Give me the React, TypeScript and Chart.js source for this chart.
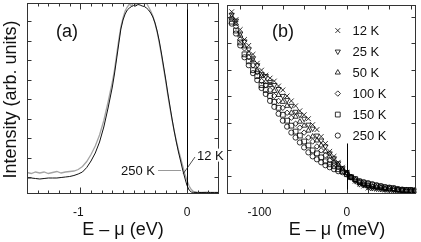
import React, { useEffect, useRef } from 'react';
import { Chart, registerables } from 'chart.js';
import { drawPoint } from 'chart.js/helpers';

Chart.register(...registerables);

const FONT = '"Liberation Sans", Arial, Helvetica, sans-serif';

// ---------------- Panel (a): photoemission spectra ----------------
const A_ENERGY = [
  -1.50, -1.46, -1.42, -1.38, -1.34, -1.30, -1.26, -1.22, -1.18, -1.14, -1.10, -1.06, -1.02, -0.98, -0.94, -0.90, -0.86, -0.82, -0.78, -0.74, -0.70,
  -0.68, -0.66, -0.64, -0.62, -0.60, -0.58, -0.56, -0.54, -0.52, -0.50, -0.48, -0.46, -0.44, -0.42, -0.40, -0.38, -0.36, -0.34, -0.32, -0.30,
  -0.28, -0.26, -0.24, -0.22, -0.20, -0.18, -0.16, -0.14, -0.12, -0.10, -0.08, -0.06, -0.04, -0.02, 0.00, 0.02, 0.04, 0.06,
  0.10, 0.14, 0.18, 0.22, 0.26, 0.30,
];
const A_12K = [
  1.50, 1.50, 1.45, 1.40, 1.45, 1.50, 1.50, 1.50, 1.55, 1.60, 1.65, 1.75, 1.90, 2.10, 2.55, 3.20, 4.00, 5.10, 6.60, 8.50, 10.60,
  11.90, 13.40, 14.90, 16.40, 17.30, 17.90, 18.30, 18.50, 18.65, 18.75, 18.70, 18.85, 18.80, 18.70, 18.65, 18.50, 18.30, 18.00, 17.60, 17.00,
  16.20, 15.20, 14.00, 12.70, 11.40, 10.00, 8.70, 7.40, 6.20, 5.10, 4.10, 3.20, 2.30, 1.50, 0.75, 0.30, 0.10, 0.06,
  0.05, 0.05, 0.04, 0.05, 0.04, 0.05,
];
const A_250K = [
  2.05, 1.95, 2.10, 2.00, 2.10, 1.95, 2.05, 2.15, 2.00, 2.10, 2.15, 2.20, 2.35, 2.65, 3.15, 3.85, 4.70, 5.80, 7.25, 9.10, 11.10,
  12.30, 13.80, 15.30, 16.60, 17.50, 18.20, 18.60, 18.90, 18.70, 19.10, 18.80, 19.20, 19.00, 19.30, 18.90, 19.00, 18.60, 18.20, 17.70, 17.00,
  16.10, 15.00, 13.80, 12.50, 11.20, 9.80, 8.50, 7.30, 6.20, 5.20, 4.30, 3.50, 2.70, 1.90, 1.25, 0.70, 0.35, 0.15,
  0.07, 0.06, 0.08, 0.05, 0.07, 0.06,
];
const A_X_MIN = -1.5;
const A_X_MAX = 0.3;
const A_Y_MIN = -0.1;
const A_Y_MAX = 19;
const A_X_MINOR_TICKS = [-1.4, -1.3, -1.2, -1.1, -0.9, -0.8, -0.7, -0.6, -0.5, -0.4, -0.3, -0.2, -0.1, 0.1, 0.2];
const A_X_MAJOR_TICKS = [-1, 0];
const A_X_LABEL_VALUES = [-1, 0];
const A_X_LABEL_TEXT = ['-1', '0'];
const A_Y_TICKS = [1.6, 3.55, 5.5, 7.45, 9.4, 11.35, 13.3, 15.25, 17.2];

// ---------------- Panel (b): temperature dependence near E_F ----------------
const B_ENERGY = [
  -135, -130, -125, -120, -115, -110, -105, -100, -95, -90, -85, -80, -75, -70, -65, -60, -55, -50, -45, -40, -35, -30,
  -25, -20, -15, -10, -5, 0, 5, 10, 15, 20, 25, 30, 35, 40, 45, 50, 55, 60, 65, 70, 75, 80,
];
const B_12K = [
  18.3, 17.5, 16.5, 15.5, 14.9, 14.0, 13.1, 12.4, 11.9, 11.6, 11.3, 10.8, 10.4, 9.8, 9.3, 8.8, 8.3, 7.9, 7.5, 6.9, 6.4, 5.7,
  5.0, 4.2, 3.7, 3.1, 2.6, 2.1, 1.6, 1.2, 0.9, 0.7, 0.5, 0.45, 0.4, 0.35, 0.3, 0.3, 0.25, 0.25, 0.2, 0.2, 0.2, 0.2,
];
const B_25K = [
  18.0, 17.4, 16.1, 15.3, 14.5, 13.6, 12.9, 12.0, 11.8, 11.2, 10.9, 10.5, 9.8, 9.4, 8.8, 8.2, 7.9, 7.5, 6.9, 6.5, 5.8, 5.3,
  4.7, 4.0, 3.5, 3.0, 2.5, 2.1, 1.6, 1.2, 0.9, 0.8, 0.6, 0.5, 0.45, 0.4, 0.35, 0.3, 0.3, 0.25, 0.25, 0.2, 0.2, 0.2,
];
const B_50K = [
  17.8, 17.1, 15.9, 14.8, 14.1, 13.4, 12.4, 11.8, 11.2, 10.9, 10.3, 9.9, 9.2, 8.8, 8.1, 7.7, 7.2, 6.8, 6.3, 5.7, 5.3, 4.8,
  4.2, 3.7, 3.2, 2.8, 2.4, 2.0, 1.6, 1.3, 1.0, 0.85, 0.7, 0.6, 0.55, 0.5, 0.4, 0.4, 0.35, 0.3, 0.25, 0.25, 0.2, 0.2,
];
const B_100K = [
  17.6, 16.8, 15.5, 14.6, 13.7, 12.9, 12.2, 11.3, 10.9, 10.4, 9.8, 9.3, 8.6, 8.1, 7.6, 7.0, 6.6, 6.1, 5.6, 5.2, 4.7, 4.3,
  3.8, 3.3, 3.0, 2.6, 2.3, 2.0, 1.6, 1.3, 1.1, 0.9, 0.8, 0.7, 0.6, 0.55, 0.45, 0.45, 0.4, 0.35, 0.3, 0.25, 0.25, 0.25,
];
const B_150K = [
  17.3, 16.4, 15.2, 14.0, 13.3, 12.4, 11.8, 10.9, 10.4, 9.8, 9.2, 8.6, 7.9, 7.3, 6.8, 6.2, 5.8, 5.2, 4.8, 4.3, 4.0, 3.6,
  3.2, 2.9, 2.7, 2.4, 2.2, 1.9, 1.6, 1.4, 1.15, 1.0, 0.9, 0.8, 0.7, 0.65, 0.55, 0.5, 0.45, 0.35, 0.3, 0.3, 0.3, 0.25,
];
const B_250K = [
  17.1, 16.1, 14.9, 13.7, 12.9, 12.1, 11.4, 10.6, 10.0, 9.3, 8.7, 8.0, 7.3, 6.7, 6.1, 5.6, 5.1, 4.6, 4.1, 3.7, 3.4, 3.1,
  2.8, 2.6, 2.4, 2.2, 2.1, 1.9, 1.6, 1.4, 1.2, 1.1, 1.0, 0.9, 0.8, 0.7, 0.6, 0.55, 0.5, 0.4, 0.35, 0.3, 0.3, 0.25,
];
const B_SERIES_LABELS = ['12 K', '25 K', '50 K', '100 K', '150 K', '250 K'];
const B_X_MIN = -140.5;
const B_X_MAX = 81.5;
const B_Y_MIN = -0.1;
const B_Y_MAX = 19;
const B_X_TICKS = [-125, -100, -75, -50, -25, 0, 25, 50, 75];
const B_X_LABEL_VALUES = [-100, 0];
const B_X_LABEL_TEXT = ['-100', '0'];
const B_Y_TICKS = [1.7, 4.38, 7.07, 9.75, 12.43, 15.12, 17.8];
const B_FERMI_LINE_TOP = 5.0;

// annotation anchors (data coordinates)
const A_PANEL_TAG = { x: -1.125, y: 15.65, text: '(a)' };
const A_LABEL_250 = { x: -0.30, y: 1.84, text: '250 K' };
const A_POINTER_250 = [[-0.272, 2.3], [-0.056, 2.3]];
const A_LABEL_12 = { x: 0.094, y: 3.34, text: '12 K' };
const A_POINTER_12 = [[0.075, 3.6], [-0.0375, 1.9]];
const B_PANEL_TAG = { x: -74.9, y: 15.7, text: '(b)' };
const B_LEGEND_MARKER_X = -10.5;
const B_LEGEND_TEXT_X = 6.7;
const B_LEGEND_ROWS = [16.4, 14.28, 12.16, 10.04, 7.92, 5.8];

// styles
const MARKER_STYLES = [
  { pointStyle: 'crossRot', rotation: 0, radius: 3.4 },
  { pointStyle: 'triangle', rotation: 180, radius: 3.0 },
  { pointStyle: 'triangle', rotation: 0, radius: 3.0 },
  { pointStyle: 'rectRot', rotation: 0, radius: 2.7 },
  { pointStyle: 'rect', rotation: 0, radius: 3.4 },
  { pointStyle: 'circle', rotation: 0, radius: 2.6 },
];
const FRAME_COLOR = '#333';
const TEXT_COLOR = '#111';

function pts(xs: number[], ys: number[]) {
  return xs.map((x, i) => ({ x, y: ys[i] }));
}

function drawFrame(ctx: CanvasRenderingContext2D, area: any) {
  const l = Math.round(area.left) + 0.5;
  const r = Math.round(area.right) - 0.5;
  const t = Math.round(area.top) + 0.5;
  const b = Math.round(area.bottom) - 0.5;
  ctx.strokeStyle = FRAME_COLOR;
  ctx.lineWidth = 1;
  ctx.strokeRect(l, t, r - l, b - t);
  return { l, r, t, b };
}

function xTicks(ctx: CanvasRenderingContext2D, chart: any, values: number[], len: number, f: any) {
  ctx.beginPath();
  for (const v of values) {
    const x = Math.round(chart.scales.x.getPixelForValue(v)) + 0.5;
    ctx.moveTo(x, f.b);
    ctx.lineTo(x, f.b - len);
    ctx.moveTo(x, f.t);
    ctx.lineTo(x, f.t + len);
  }
  ctx.stroke();
}

function yTicks(ctx: CanvasRenderingContext2D, chart: any, values: number[], len: number, f: any) {
  ctx.beginPath();
  for (const v of values) {
    const y = Math.round(chart.scales.y.getPixelForValue(v)) + 0.5;
    ctx.moveTo(f.l, y);
    ctx.lineTo(f.l + len, y);
    ctx.moveTo(f.r, y);
    ctx.lineTo(f.r - len, y);
  }
  ctx.stroke();
}

function tickLabels(ctx: CanvasRenderingContext2D, chart: any, values: number[], texts: string[], baseline: number) {
  ctx.font = `12px ${FONT}`;
  ctx.fillStyle = TEXT_COLOR;
  ctx.textAlign = 'center';
  ctx.textBaseline = 'alphabetic';
  values.forEach((v, i) => {
    const t = texts[i];
    const shift = t.startsWith('-') ? ctx.measureText('-').width / 2 : 0;
    ctx.fillText(t, chart.scales.x.getPixelForValue(v) - shift, baseline);
  });
}

function fermiLine(ctx: CanvasRenderingContext2D, chart: any, yTop: number) {
  const x = Math.round(chart.scales.x.getPixelForValue(0)) + 0.5;
  ctx.strokeStyle = '#000';
  ctx.lineWidth = 1;
  ctx.beginPath();
  ctx.moveTo(x, chart.scales.y.getPixelForValue(yTop));
  ctx.lineTo(x, chart.chartArea.bottom);
  ctx.stroke();
}

const panelAPlugin = {
  id: 'panelA',
  afterDatasetsDraw(chart: any) {
    const ctx: CanvasRenderingContext2D = chart.ctx;
    const area = chart.chartArea;
    const sx = (v: number) => chart.scales.x.getPixelForValue(v);
    const sy = (v: number) => chart.scales.y.getPixelForValue(v);
    ctx.save();
    fermiLine(ctx, chart, A_Y_MAX);
    const f = drawFrame(ctx, area);
    xTicks(ctx, chart, A_X_MINOR_TICKS, 3, f);
    xTicks(ctx, chart, A_X_MAJOR_TICKS, 6, f);
    yTicks(ctx, chart, A_Y_TICKS, 4, f);
    tickLabels(ctx, chart, A_X_LABEL_VALUES, A_X_LABEL_TEXT, 216);

    // axis titles
    ctx.fillStyle = TEXT_COLOR;
    ctx.font = `18px ${FONT}`;
    ctx.textAlign = 'center';
    ctx.textBaseline = 'alphabetic';
    ctx.fillText('E \u2013 \u03bc (eV)', (area.left + area.right) / 2, 235);
    ctx.save();
    ctx.translate(15.5, (area.top + area.bottom) / 2 + 1);
    ctx.rotate(-Math.PI / 2);
    ctx.fillText('Intensity (arb. units)', 0, 0);
    ctx.restore();

    // panel tag
    ctx.font = `18px ${FONT}`;
    ctx.fillText(A_PANEL_TAG.text, sx(A_PANEL_TAG.x), sy(A_PANEL_TAG.y));

    // curve labels
    ctx.font = `13px ${FONT}`;
    ctx.textAlign = 'right';
    ctx.fillText(A_LABEL_250.text, sx(A_LABEL_250.x), sy(A_LABEL_250.y));
    ctx.strokeStyle = '#999';
    ctx.lineWidth = 1;
    ctx.beginPath();
    ctx.moveTo(sx(A_POINTER_250[0][0]), Math.round(sy(A_POINTER_250[0][1])) + 0.5);
    ctx.lineTo(sx(A_POINTER_250[1][0]), Math.round(sy(A_POINTER_250[1][1])) + 0.5);
    ctx.stroke();

    ctx.textAlign = 'left';
    const w = ctx.measureText(A_LABEL_12.text).width;
    const lx = sx(A_LABEL_12.x);
    const ly = sy(A_LABEL_12.y);
    ctx.fillStyle = '#fff';
    ctx.fillRect(lx - 1, ly - 11, w + 2, 13);
    ctx.fillStyle = TEXT_COLOR;
    ctx.fillText(A_LABEL_12.text, lx, ly);
    ctx.strokeStyle = '#222';
    ctx.lineWidth = 0.8;
    ctx.beginPath();
    ctx.moveTo(sx(A_POINTER_12[0][0]), sy(A_POINTER_12[0][1]));
    ctx.lineTo(sx(A_POINTER_12[1][0]), sy(A_POINTER_12[1][1]));
    ctx.stroke();
    ctx.restore();
  },
};

const panelBPlugin = {
  id: 'panelB',
  afterDatasetsDraw(chart: any) {
    const ctx: CanvasRenderingContext2D = chart.ctx;
    const area = chart.chartArea;
    const sx = (v: number) => chart.scales.x.getPixelForValue(v);
    const sy = (v: number) => chart.scales.y.getPixelForValue(v);
    ctx.save();
    fermiLine(ctx, chart, B_FERMI_LINE_TOP);
    const f = drawFrame(ctx, area);
    xTicks(ctx, chart, B_X_TICKS, 4, f);
    yTicks(ctx, chart, B_Y_TICKS, 4, f);
    tickLabels(ctx, chart, B_X_LABEL_VALUES, B_X_LABEL_TEXT, 216);

    ctx.fillStyle = TEXT_COLOR;
    ctx.font = `18px ${FONT}`;
    ctx.textAlign = 'center';
    ctx.textBaseline = 'alphabetic';
    ctx.fillText('E \u2013 \u03bc (meV)', 337 - 222, 235);
    ctx.fillText(B_PANEL_TAG.text, sx(B_PANEL_TAG.x), sy(B_PANEL_TAG.y));

    // legend
    ctx.font = `13px ${FONT}`;
    ctx.textAlign = 'left';
    ctx.textBaseline = 'middle';
    B_SERIES_LABELS.forEach((label, i) => {
      const y = sy(B_LEGEND_ROWS[i]);
      const st = MARKER_STYLES[i];
      ctx.strokeStyle = '#000';
      ctx.fillStyle = 'rgba(0,0,0,0)';
      ctx.lineWidth = 0.8;
      drawPoint(ctx, { pointStyle: st.pointStyle as any, rotation: st.rotation, radius: st.radius, borderWidth: 0.8 } as any, sx(B_LEGEND_MARKER_X), y);
      ctx.fillStyle = TEXT_COLOR;
      ctx.fillText(label, sx(B_LEGEND_TEXT_X), y + 0.5);
    });
    ctx.restore();
  },
};

export default function App() {
  const refA = useRef<HTMLCanvasElement>(null);
  const refB = useRef<HTMLCanvasElement>(null);

  useEffect(() => {
    const common = {
      responsive: false,
      animation: false as const,
      events: [] as any[],
      plugins: { legend: { display: false }, tooltip: { enabled: false } },
    };

    const chartA = new Chart(refA.current!, {
      type: 'scatter',
      data: {
        datasets: [
          {
            label: '12 K',
            data: pts(A_ENERGY, A_12K),
            showLine: true,
            borderColor: '#111',
            borderWidth: 1,
            pointRadius: 0,
          },
          {
            label: '250 K',
            data: pts(A_ENERGY, A_250K),
            showLine: true,
            borderColor: '#a4a4a4',
            borderWidth: 1.3,
            pointRadius: 0,
          },
        ],
      },
      options: {
        ...common,
        layout: { padding: { left: 27, right: 7, top: 3, bottom: 48 } },
        scales: {
          x: { type: 'linear', display: false, min: A_X_MIN, max: A_X_MAX },
          y: { type: 'linear', display: false, min: A_Y_MIN, max: A_Y_MAX },
        },
      } as any,
      plugins: [panelAPlugin],
    });

    const seriesB = [B_12K, B_25K, B_50K, B_100K, B_150K, B_250K];
    const chartB = new Chart(refB.current!, {
      type: 'scatter',
      data: {
        datasets: seriesB.map((s, i) => ({
          label: B_SERIES_LABELS[i],
          data: pts(B_ENERGY, s),
          showLine: false,
          pointStyle: MARKER_STYLES[i].pointStyle as any,
          rotation: MARKER_STYLES[i].rotation,
          radius: MARKER_STYLES[i].radius,
          pointRadius: MARKER_STYLES[i].radius,
          pointBorderColor: '#000',
          pointBackgroundColor: 'rgba(0,0,0,0)',
          pointBorderWidth: 0.8,
        })),
      },
      options: {
        ...common,
        layout: { padding: { left: 5, right: 1, top: 3, bottom: 48 } },
        scales: {
          x: { type: 'linear', display: false, min: B_X_MIN, max: B_X_MAX },
          y: { type: 'linear', display: false, min: B_Y_MIN, max: B_Y_MAX },
        },
      } as any,
      plugins: [panelBPlugin],
    });

    return () => {
      chartA.destroy();
      chartB.destroy();
    };
  }, []);

  return (
    <div style={{ position: 'fixed', left: 0, top: 0, width: 421, height: 242, background: '#fff' }}>
      <canvas ref={refA} width={226} height={242} style={{ position: 'absolute', left: 0, top: 0, width: 226, height: 242 }} />
      <canvas ref={refB} width={199} height={242} style={{ position: 'absolute', left: 222, top: 0, width: 199, height: 242 }} />
    </div>
  );
}
